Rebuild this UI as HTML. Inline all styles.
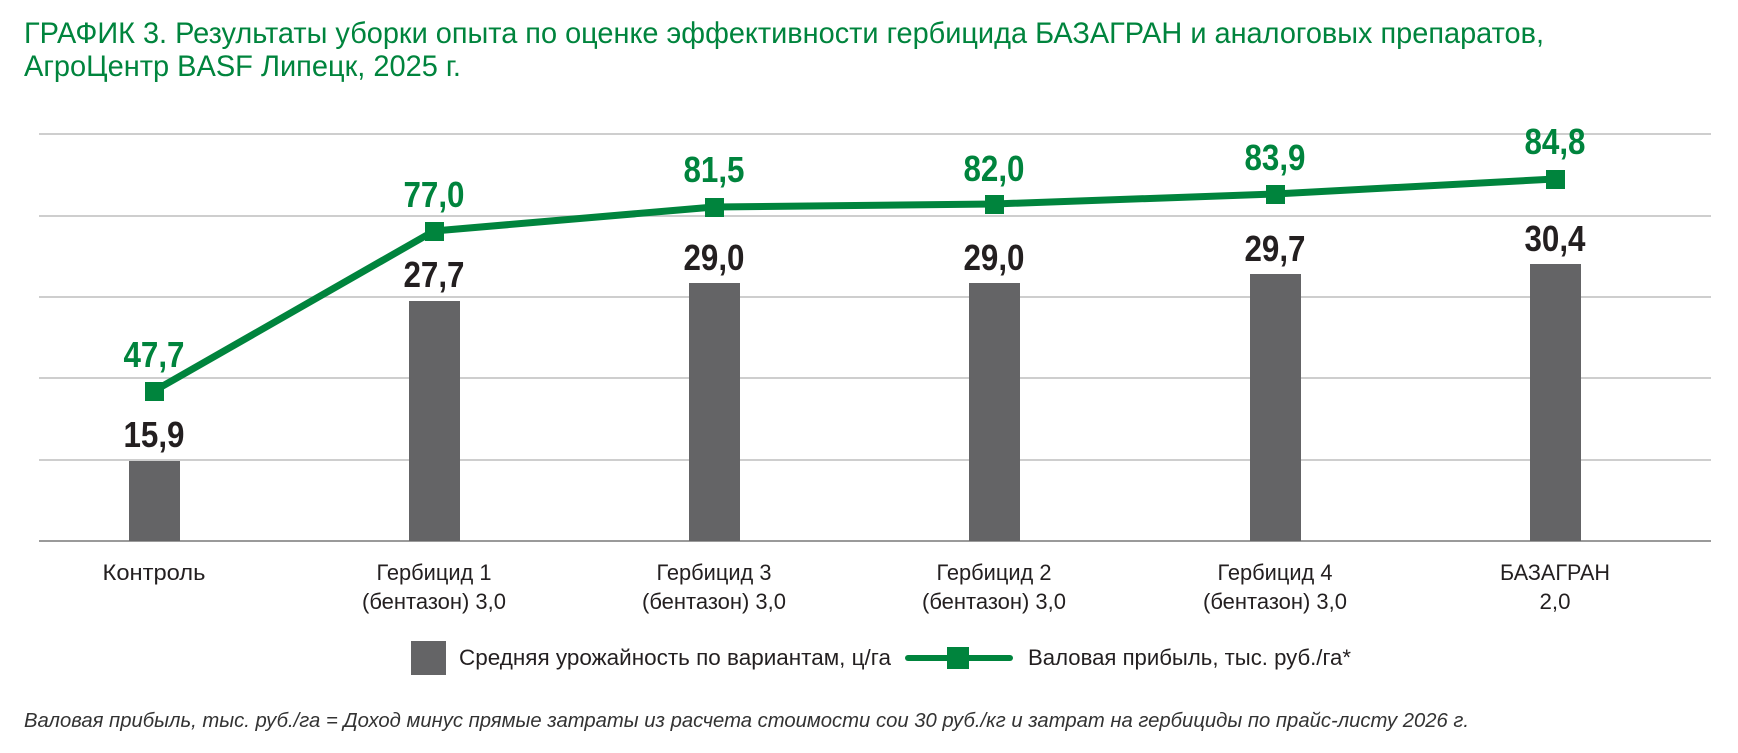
<!DOCTYPE html>
<html><head><meta charset="utf-8"><style>
html,body{margin:0;padding:0;background:#fff;}
svg{display:block;font-family:"Liberation Sans Narrow","Liberation Sans",sans-serif;}
</style></head><body>
<svg width="1738" height="753" viewBox="0 0 1738 753" xmlns="http://www.w3.org/2000/svg">
<g fill="#00843d" font-size="30">
<text x="24" y="43" textLength="1520" lengthAdjust="spacingAndGlyphs">ГРАФИК 3. Результаты уборки опыта по оценке эффективности гербицида БАЗАГРАН и аналоговых препаратов,</text>
<text x="24" y="76" textLength="437" lengthAdjust="spacingAndGlyphs">АгроЦентр BASF Липецк, 2025 г.</text>
</g>
<g stroke="#bdbdbd" stroke-width="1.5">
<line x1="39" y1="134" x2="1711" y2="134"/>
<line x1="39" y1="216" x2="1711" y2="216"/>
<line x1="39" y1="297" x2="1711" y2="297"/>
<line x1="39" y1="378" x2="1711" y2="378"/>
<line x1="39" y1="460" x2="1711" y2="460"/>
</g>
<line x1="39" y1="541" x2="1711" y2="541" stroke="#9a9a9a" stroke-width="2"/>
<g fill="#646466">
<rect x="129" y="461" width="51" height="80"/>
<rect x="409" y="301" width="51" height="240"/>
<rect x="689" y="283" width="51" height="258"/>
<rect x="969" y="283" width="51" height="258"/>
<rect x="1250" y="274" width="51" height="267"/>
<rect x="1530" y="264" width="51" height="277"/>
</g>
<g fill="#231f20" font-size="36" font-weight="bold" text-anchor="middle">
<text x="154" y="447" textLength="61" lengthAdjust="spacingAndGlyphs">15,9</text>
<text x="434" y="287" textLength="61" lengthAdjust="spacingAndGlyphs">27,7</text>
<text x="714" y="270" textLength="61" lengthAdjust="spacingAndGlyphs">29,0</text>
<text x="994" y="270" textLength="61" lengthAdjust="spacingAndGlyphs">29,0</text>
<text x="1275" y="261" textLength="61" lengthAdjust="spacingAndGlyphs">29,7</text>
<text x="1555" y="251" textLength="61" lengthAdjust="spacingAndGlyphs">30,4</text>
</g>
<polyline points="154,391 434,231 714,207 994,204 1275,194 1555,179" fill="none" stroke="#00843d" stroke-width="7" stroke-linejoin="round"/>
<g fill="#00843d">
<rect x="145" y="382" width="19" height="19"/>
<rect x="425" y="222" width="19" height="19"/>
<rect x="705" y="198" width="19" height="19"/>
<rect x="985" y="195" width="19" height="19"/>
<rect x="1266" y="185" width="19" height="19"/>
<rect x="1546" y="170" width="19" height="19"/>
</g>
<g fill="#00843d" font-size="36" font-weight="bold" text-anchor="middle">
<text x="154" y="367" textLength="61" lengthAdjust="spacingAndGlyphs">47,7</text>
<text x="434" y="207" textLength="61" lengthAdjust="spacingAndGlyphs">77,0</text>
<text x="714" y="182" textLength="61" lengthAdjust="spacingAndGlyphs">81,5</text>
<text x="994" y="181" textLength="61" lengthAdjust="spacingAndGlyphs">82,0</text>
<text x="1275" y="170" textLength="61" lengthAdjust="spacingAndGlyphs">83,9</text>
<text x="1555" y="154" textLength="61" lengthAdjust="spacingAndGlyphs">84,8</text>
</g>
<g fill="#231f20" font-size="22" text-anchor="middle">
<text x="154" y="580" textLength="103" lengthAdjust="spacingAndGlyphs">Контроль</text>
<text x="434" y="580" textLength="115" lengthAdjust="spacingAndGlyphs">Гербицид 1</text>
<text x="434" y="609" textLength="144" lengthAdjust="spacingAndGlyphs">(бентазон) 3,0</text>
<text x="714" y="580" textLength="115" lengthAdjust="spacingAndGlyphs">Гербицид 3</text>
<text x="714" y="609" textLength="144" lengthAdjust="spacingAndGlyphs">(бентазон) 3,0</text>
<text x="994" y="580" textLength="115" lengthAdjust="spacingAndGlyphs">Гербицид 2</text>
<text x="994" y="609" textLength="144" lengthAdjust="spacingAndGlyphs">(бентазон) 3,0</text>
<text x="1275" y="580" textLength="115" lengthAdjust="spacingAndGlyphs">Гербицид 4</text>
<text x="1275" y="609" textLength="144" lengthAdjust="spacingAndGlyphs">(бентазон) 3,0</text>
<text x="1555" y="580" textLength="110" lengthAdjust="spacingAndGlyphs">БАЗАГРАН</text>
<text x="1555" y="609" textLength="31" lengthAdjust="spacingAndGlyphs">2,0</text>
</g>
<rect x="411" y="641" width="35" height="34" fill="#646466"/>
<text x="459" y="665" font-size="22" fill="#231f20" textLength="432" lengthAdjust="spacingAndGlyphs">Средняя урожайность по вариантам, ц/га</text>
<line x1="908" y1="658" x2="1010" y2="658" stroke="#00843d" stroke-width="6" stroke-linecap="round"/>
<rect x="947" y="647" width="22" height="22" fill="#00843d"/>
<text x="1028" y="665" font-size="22" fill="#231f20" textLength="323" lengthAdjust="spacingAndGlyphs">Валовая прибыль, тыс. руб./га*</text>
<text x="24" y="727" font-size="20" font-style="italic" fill="#333" textLength="1445" lengthAdjust="spacingAndGlyphs">Валовая прибыль, тыс. руб./га = Доход минус прямые затраты из расчета стоимости сои 30 руб./кг и затрат на гербициды по прайс-листу 2026 г.</text>
</svg>
</body></html>
